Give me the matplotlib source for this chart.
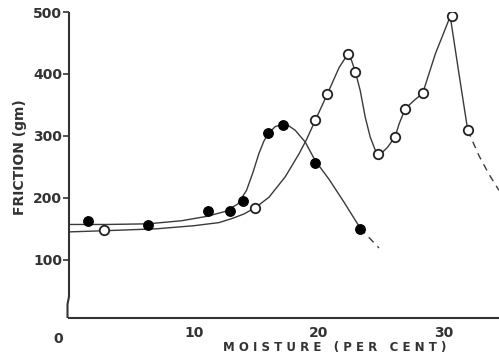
import matplotlib
matplotlib.use("Agg")
import matplotlib.pyplot as plt
from matplotlib.lines import Line2D

# Measured data points (moisture %, friction gm)
filled_x = [1.5, 6.3, 11.1, 12.9, 13.9, 15.9, 17.1, 19.7, 23.3]
filled_y = [163, 156, 178, 178, 195, 304, 318, 256, 149]

open_x = [2.8, 14.9, 19.7, 20.6, 22.3, 22.9, 24.7, 26.1, 26.9, 28.3, 30.6, 31.9]
open_y = [148, 183, 326, 367, 432, 403, 270, 299, 344, 369, 493, 309]

# Hand-drawn fitted curves
filled_curve_x = [0, 3, 6.3, 9, 11, 12.5, 13.5, 14.2, 14.7, 15.2, 15.6, 16.0, 16.5,
                  17.1, 17.6, 18.1, 18.9, 19.7, 20.8, 22.0, 23.3]
filled_curve_y = [157, 157, 158, 163, 170, 178, 190, 212, 240, 272, 292, 305, 315,
                  319, 316, 309, 290, 260, 230, 193, 151]
filled_dash_x = [23.3, 24.0, 24.8]
filled_dash_y = [151, 136, 119]

open_curve_x = [0, 3, 7, 10, 12, 13.1, 14.0, 14.9, 16.0, 17.3, 18.4, 19.0, 19.7,
                20.7, 21.6, 22.3, 22.6, 22.9, 23.3, 23.7, 24.1, 24.5, 24.8, 25.5,
                26.1, 26.4, 26.9, 27.6, 28.3, 29.3, 30.5, 31.2, 31.9]
open_curve_y = [145, 147, 150, 155, 160, 167, 174, 184, 201, 234, 271, 294, 325,
                369, 410, 432, 422, 404, 373, 330, 298, 277, 268, 282,
                299, 319, 344, 357, 369, 432, 493, 400, 309]
open_dash_x = [31.9, 32.8, 33.6, 34.4]
open_dash_y = [309, 268, 238, 212]

y_ticks = [100, 200, 300, 400, 500]
x_ticks = [10, 20, 30]
x_tick_labels = ["10", "20", "30"]

W, H = 499, 356
fig = plt.figure(figsize=(W / 100, H / 100), dpi=100)
ax = fig.add_axes([69 / W, 1 - 318 / H, (W - 69) / W, (318 - 12) / H])
ax.set_xlim(0, 34.4)
ax.set_ylim(6, 500)

line_c = "#3a3a3a"
ax.plot(filled_curve_x, filled_curve_y, color=line_c, lw=1.0, zorder=2)
ax.plot(filled_dash_x, filled_dash_y, color=line_c, lw=1.0, ls=(0, (5, 4)), zorder=2)
ax.plot(open_curve_x, open_curve_y, color=line_c, lw=1.0, zorder=2)
ax.plot(open_dash_x, open_dash_y, color=line_c, lw=1.0, ls=(0, (5, 4)), zorder=2)

ax.plot(filled_x, filled_y, "o", ms=6.8, mfc="black", mec="black", mew=1.0, zorder=3)
ax.plot(open_x, open_y, "o", ms=6.8, mfc="white", mec="#222222", mew=1.3, zorder=3)

for s in ["top", "right", "left"]:
    ax.spines[s].set_visible(False)
ax.spines["bottom"].set_linewidth(1.5)
ax.spines["bottom"].set_color("#333333")

# left axis line with the small break jog near the bottom
jx = -1.5 / (W - 69)
ax.add_line(Line2D([0, 0, jx, jx], [1.0, 0.07, 0.045, 0.0], transform=ax.transAxes,
                   color="#333333", lw=1.5, clip_on=False, solid_capstyle="butt"))

ax.set_yticks(y_ticks)
ax.set_yticklabels([str(v) for v in y_ticks], fontsize=10, fontweight="bold", color="#333333")
ax.tick_params(axis="y", direction="out", length=4, width=1.2, pad=1, color="#333333")
ax.set_xticks(x_ticks)
ax.set_xticklabels(x_tick_labels, fontsize=10, fontweight="bold", color="#333333")
ax.tick_params(axis="x", length=0, pad=6)

ax.text(-11 / 12.5, -0.07, "0", transform=ax.get_xaxis_transform(), ha="center", va="center",
        fontsize=10, fontweight="bold", color="#333333")

fig.text(20 / W, 1 - 157 / H, "FRICTION (gm)", rotation=90, ha="center", va="center",
         fontsize=10, fontweight="bold", color="#333333")
fig.text(335 / W, 1 - 348 / H, "M O I S T U R E   ( P E R   C E N T )", ha="center", va="center",
         fontsize=8.5, fontweight="bold", color="#333333")

fig.savefig("out.png", dpi=100, facecolor="white")
